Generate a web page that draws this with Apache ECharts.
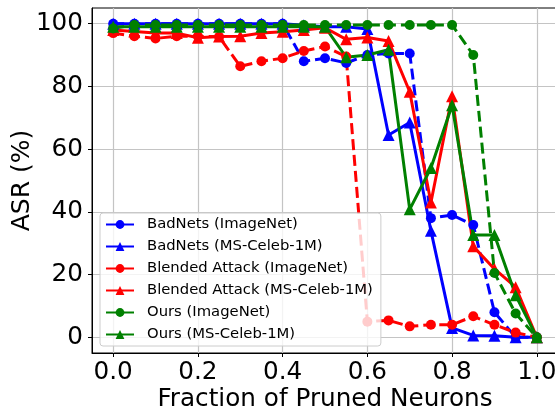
<!DOCTYPE html>
<html>
<head>
<meta charset="utf-8">
<script src="https://cdn.jsdelivr.net/npm/echarts@6/dist/echarts.min.js"></script>
<style>
  html, body { margin: 0; padding: 0; background: #fff; }
  #chart { width: 555px; height: 413px; }
</style>
</head>
<body>
<div id="chart"></div>
<script>
const fractions = [0, 0.05, 0.1, 0.15, 0.2, 0.25, 0.3, 0.35, 0.4, 0.45, 0.5,
  0.55, 0.6, 0.65, 0.7, 0.75, 0.8, 0.85, 0.9, 0.95, 1.0];

const badnetsImageNet = [100, 100, 100, 100, 100, 100, 100, 100, 100, 88, 89, 87.5, 90, 90.5, 90.5, 38, 39, 35.8, 8, 0, 0];
const badnetsCeleb = [100, 100, 100, 100, 100, 100, 100, 100, 100, 99.5, 99, 99, 98.3, 64.5, 68.5, 34, 3, 0.6, 0.5, 0, 0];
const blendedImageNet = [97, 96, 95.3, 96, 96, 95.8, 86.4, 88, 89, 91.3, 92.7, 89.5, 5, 5.4, 3.5, 4, 4, 6.7, 4, 1.5, 0];
const blendedCeleb = [98, 97.5, 97, 97, 95.5, 95.9, 96, 97, 97.4, 98, 98.7, 95, 95.6, 94.5, 78.3, 43, 76.9, 29, 21.8, 16, 0];
const oursImageNet = [98.5, 99.6, 99.6, 99.6, 99.6, 99.6, 99.6, 99.6, 99.6, 99.6, 99.6, 99.6, 99.6, 99.6, 99.6, 99.6, 99.6, 90, 20.5, 7.6, 0];
const oursCeleb = [99, 99, 99, 99, 99, 99, 99, 99, 99, 99, 99, 89.3, 90, 91.7, 40.8, 54, 74, 32.6, 32.6, 13.4, 0];

const xTicks = [0, 0.2, 0.4, 0.6, 0.8, 1.0];
const yTicks = [0, 20, 40, 60, 80, 100];

const chart = echarts.init(document.getElementById('chart'), null, { renderer: 'canvas' });

const font = 'DejaVu Sans';

// one line series per curve, ImageNet runs dashed
function makeSeries(name, values, color, symbol, dashed) {
  return {
    name: name,
    type: 'line',
    data: fractions.map((x, i) => [x, values[i]]),
    symbol: symbol,
    symbolSize: symbol === 'circle' ? 10 : 12,
    showAllSymbol: true,
    color: color,
    itemStyle: { color: color },
    lineStyle: { color: color, width: 3, type: dashed ? [11, 5] : 'solid' },
    emphasis: { disabled: true },
  };
}

const option = {
  animation: false,
  grid: {
    left: 92, right: -3, top: 8, bottom: 60,
    outerBoundsMode: 'none',
    containLabel: false,
    show: true, borderColor: '#000', borderWidth: 1,
  },
  legend: {
    left: 100, top: 213,
    orient: 'vertical',
    itemWidth: 28, itemHeight: 11,
    itemGap: 5,
    padding: [3, 8, 3, 5],
    backgroundColor: 'rgba(255,255,255,0.8)',
    borderColor: '#cccccc',
    borderWidth: 1,
    borderRadius: 3,
    lineStyle: { type: 'solid' },
    textStyle: {
      fontFamily: font, fontSize: 14.8, color: '#000', lineHeight: 17,
      padding: [0, 0, 0, 8],
    },
  },
  xAxis: {
    type: 'value',
    min: -0.05, max: 1.05,
    name: 'Fraction of Pruned Neurons',
    nameLocation: 'middle',
    nameGap: 34,
    nameMoveOverlap: false,
    nameTextStyle: { fontFamily: font, fontSize: 24.7, color: '#000' },
    axisLine: { show: true, onZero: false, lineStyle: { color: '#000', width: 1 } },
    axisTick: { show: true, customValues: xTicks, length: 4, lineStyle: { color: '#000' } },
    axisLabel: {
      customValues: xTicks, margin: 7,
      fontFamily: font, fontSize: 24.7, color: '#000',
      formatter: (v) => v.toFixed(1),
    },
    splitLine: { show: true, lineStyle: { color: '#c4c4c4', width: 1.2 } },
  },
  yAxis: {
    type: 'value',
    min: -5, max: 105,
    name: 'ASR (%)',
    nameLocation: 'middle',
    nameGap: 57,
    nameMoveOverlap: false,
    nameTextStyle: { fontFamily: font, fontSize: 25, color: '#000' },
    axisLine: { show: true, onZero: false, lineStyle: { color: '#000', width: 1 } },
    axisTick: { show: true, customValues: yTicks, length: 4, lineStyle: { color: '#000' } },
    axisLabel: {
      customValues: yTicks, margin: 9,
      fontFamily: font, fontSize: 24.7, color: '#000',
      formatter: (v) => String(Math.round(v)),
    },
    splitLine: { show: true, lineStyle: { color: '#c4c4c4', width: 1.2 } },
  },
  series: [
    makeSeries('BadNets (ImageNet)', badnetsImageNet, '#0000ff', 'circle', true),
    makeSeries('BadNets (MS-Celeb-1M)', badnetsCeleb, '#0000ff', 'triangle', false),
    makeSeries('Blended Attack (ImageNet)', blendedImageNet, '#ff0000', 'circle', true),
    makeSeries('Blended Attack (MS-Celeb-1M)', blendedCeleb, '#ff0000', 'triangle', false),
    makeSeries('Ours (ImageNet)', oursImageNet, '#008000', 'circle', true),
    makeSeries('Ours (MS-Celeb-1M)', oursCeleb, '#008000', 'triangle', false),
  ],
};

chart.setOption(option);
</script>
</body>
</html>
